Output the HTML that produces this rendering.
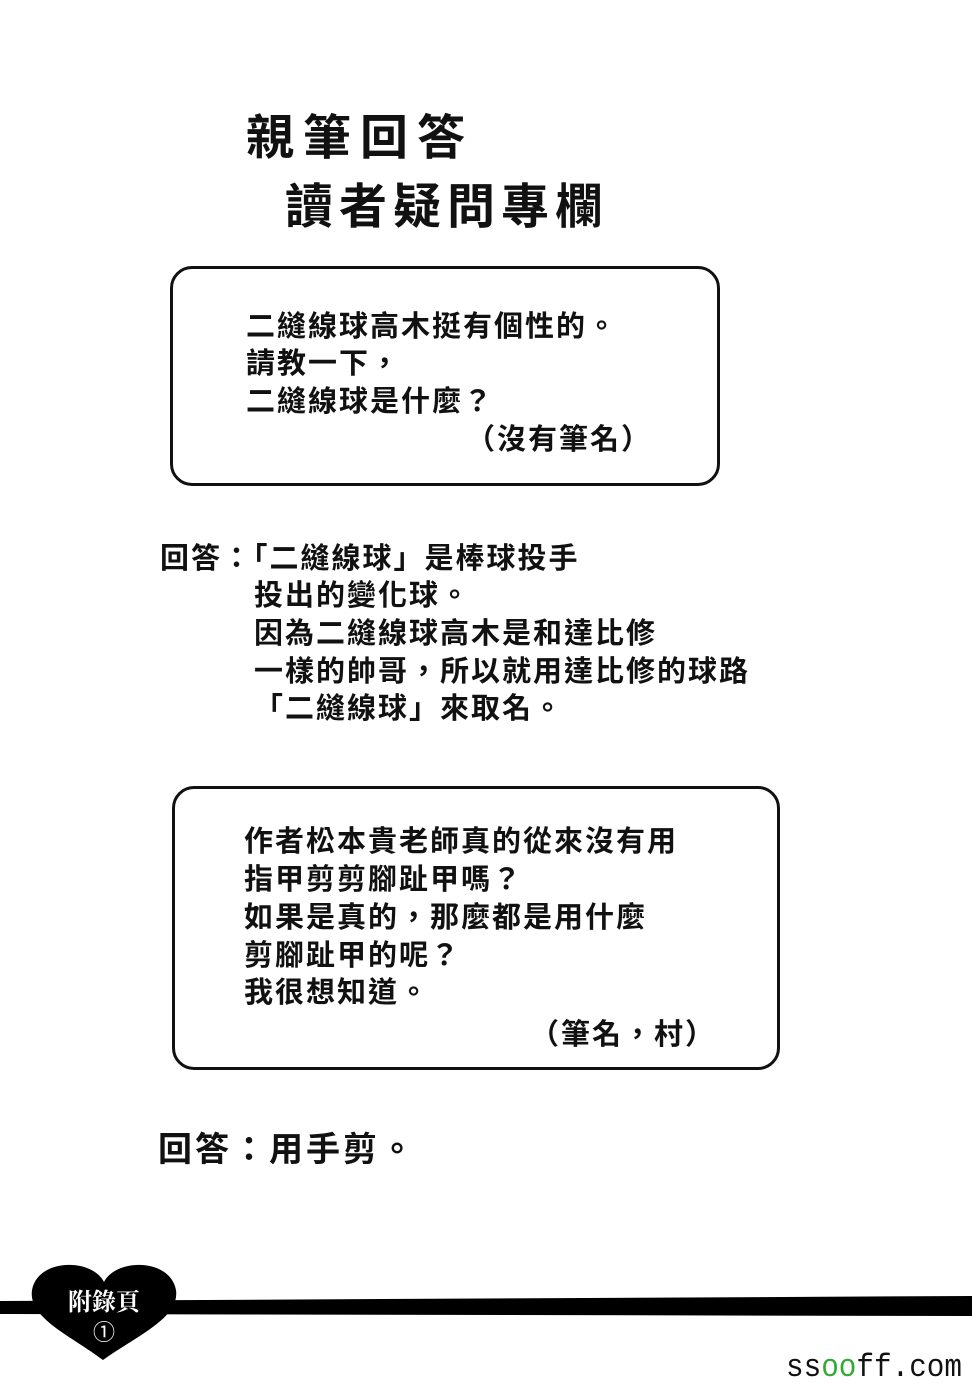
<!DOCTYPE html>
<html><head><meta charset="utf-8"><style>
body{margin:0;width:972px;height:1384px;background:#fff;position:relative;overflow:hidden;font-family:"Liberation Sans","WenQuanYi Zen Hei","Noto Sans CJK TC",sans-serif;color:#111}
.t{position:absolute;white-space:nowrap;font-weight:bold}
.b{font-size:29px;letter-spacing:2px}
.box{position:absolute;border:3px solid #111;border-radius:22px}
</style></head><body>
<div class="t" style="left:246px;top:98px;font-size:48px;letter-spacing:9px">親筆回答</div>
<div class="t" style="left:285px;top:167px;font-size:48px;letter-spacing:6px">讀者疑問專欄</div>

<div class="box" style="left:170px;top:266px;width:544px;height:214px"></div>
<div class="t b" style="left:246px;top:303px">二縫線球高木挺有個性的。</div>
<div class="t b" style="left:246px;top:340px">請教一下，</div>
<div class="t b" style="left:246px;top:378px">二縫線球是什麼？</div>
<div class="t b" style="left:466px;top:416px">（沒有筆名）</div>

<div class="t b" style="left:160px;top:535px">回答：「二縫線球」是棒球投手</div>
<div class="t b" style="left:254px;top:572px">投出的變化球。</div>
<div class="t b" style="left:254px;top:610px">因為二縫線球高木是和達比修</div>
<div class="t b" style="left:254px;top:648px">一樣的帥哥，所以就用達比修的球路</div>
<div class="t b" style="left:254px;top:685px">「二縫線球」來取名。</div>

<div class="box" style="left:172px;top:786px;width:602px;height:278px"></div>
<div class="t b" style="left:244px;top:818px">作者松本貴老師真的從來沒有用</div>
<div class="t b" style="left:244px;top:856px">指甲剪剪腳趾甲嗎？</div>
<div class="t b" style="left:244px;top:894px">如果是真的，那麼都是用什麼</div>
<div class="t b" style="left:244px;top:932px">剪腳趾甲的呢？</div>
<div class="t b" style="left:244px;top:969px">我很想知道。</div>
<div class="t b" style="left:530px;top:1011px">（筆名，村）</div>

<div class="t" style="left:158px;top:1122px;font-size:34px;letter-spacing:3px">回答：用手剪。</div>

<svg style="position:absolute;left:0;top:0" width="972" height="1384">
<path d="M0 1301 L972 1296 L972 1316 L0 1314 Z" fill="#000"/>
<path d="M104 1282 C92 1258 38 1258 32 1290 C28 1318 70 1335 103 1360 C138 1335 180 1318 176 1290 C170 1258 116 1258 104 1282 Z" fill="#000"/>
<text x="104" y="1310" font-size="24" fill="#fff" text-anchor="middle" font-weight="bold" font-family="Liberation Serif,Noto Serif CJK SC,serif">附錄頁</text>
<text x="104" y="1340" font-size="22" fill="#fff" text-anchor="middle">①</text>
<text x="786" y="1376" font-size="32" fill="#111" font-family="Liberation Mono,monospace" textLength="176" lengthAdjust="spacingAndGlyphs">ss<tspan fill="#3a3">oo</tspan>ff.com</text>
</svg>
</body></html>
